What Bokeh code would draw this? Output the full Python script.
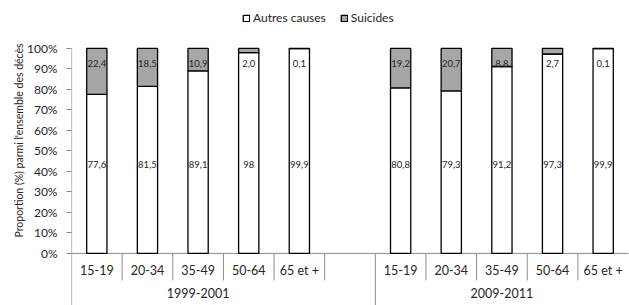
import math
from bokeh.plotting import figure
from bokeh.models import (ColumnDataSource, Range1d, FixedTicker, Title,
                          Legend, LegendItem)
from bokeh.core.properties import value
from bokeh.embed import file_html
from bokeh.resources import INLINE

# ---- data ----
periods = ["1999-2001", "2009-2011"]
age_groups = ["15-19", "20-34", "35-49", "50-64", "65 et +"]
autres_1999 = [77.6, 81.5, 89.1, 98.0, 99.9]
suicides_1999 = [22.4, 18.5, 10.9, 2.0, 0.1]
autres_2009 = [80.8, 79.3, 91.2, 97.3, 99.9]
suicides_2009 = [19.2, 20.7, 8.8, 2.7, 0.1]
y_ticks = [0, 10, 20, 30, 40, 50, 60, 70, 80, 90, 100]

FONT = "Lato"
TXT = "#262626"
AXC = "#8c8c8c"

n = len(age_groups)
slot_count = 2 * n + 1

def fmt_g(v):
    return ("%g" % v).replace(".", ",")

def fmt_1(v):
    return ("%.1f" % v).replace(".", ",")

xs, autres, suicides, cats = [], [], [], []
for g, (a_vals, s_vals) in enumerate([(autres_1999, suicides_1999), (autres_2009, suicides_2009)]):
    for i in range(n):
        xs.append(g * (n + 1) + i + 0.5)
        autres.append(a_vals[i])
        suicides.append(s_vals[i])
        cats.append(age_groups[i])

src = ColumnDataSource(dict(
    x=xs, autres=autres, suicides=suicides, cat=cats,
    alab=[fmt_g(v) for v in autres], slab=[fmt_1(v) for v in suicides],
))

Y_BOTTOM = -25.4
Y_TOP = 123.4
p = figure(width=629, height=305, output_backend="svg", toolbar_location=None,
           x_range=Range1d(0, slot_count), y_range=Range1d(Y_BOTTOM, Y_TOP),
           x_axis_location=None, min_border_left=71, min_border_right=1,
           min_border_top=0, min_border_bottom=0)
p.grid.visible = False
p.outline_line_color = None
p.background_fill_color = "white"
p.border_fill_color = "white"

yax = p.yaxis[0]
yax.ticker = FixedTicker(ticks=y_ticks)
yax.major_label_overrides = {t: f"{t}%" for t in y_ticks}
yax.axis_line_color = None
yax.major_tick_line_color = AXC
yax.minor_tick_line_color = None
yax.major_tick_out = 5
yax.major_tick_in = 0
yax.major_label_standoff = 9
yax.major_label_text_font = FONT
yax.major_label_text_font_size = "12px"
yax.major_label_text_color = TXT

# y axis title
p.add_layout(Title(text="Proportion (%) parmi l'ensemble des décès", align="left",
                   offset=68, text_font=FONT, text_font_size="10.5px",
                   text_font_style="normal", text_color=TXT, standoff=0), "left")

# value axis line (from bottom of category area up to 100 %) and baseline
p.segment(x0=[0], x1=[0], y0=[Y_BOTTOM], y1=[max(y_ticks)], line_color=AXC, line_width=1.2)
p.segment(x0=[0], x1=[slot_count], y0=[0], y1=[0], line_color=AXC, line_width=1)

rs = p.vbar_stack(["autres", "suicides"], x="x", width=0.4, source=src,
                  fill_color=["white", "#a6a6a6"], line_color="black", line_width=1.3)

# value labels
p.text(x="x", y=43.5, text="alab", source=src, text_align="center", text_baseline="middle",
       text_font=value(FONT), text_font_size="9.5px", text_color=TXT)
p.text(x="x", y=92.7, text="slab", source=src, text_align="center", text_baseline="middle",
       text_font=value(FONT), text_font_size="9.5px", text_color=TXT)

# category separators
short_x = [b for b in range(1, slot_count) if b != n + 1]
p.segment(x0=short_x, x1=short_x, y0=[0] * len(short_x), y1=[-13.2] * len(short_x),
          line_color=AXC, line_width=1)
p.segment(x0=[n + 1], x1=[n + 1], y0=[0], y1=[Y_BOTTOM], line_color=AXC, line_width=1)

# category labels
p.text(x="x", y=-8.3, text="cat", source=src, text_align="center", text_baseline="middle",
       text_font=value(FONT), text_font_size="12.5px", text_color=TXT)
p.text(x=[n / 2, n + 1 + n / 2], y=[-19.5, -19.5], text=periods, text_align="center",
       text_baseline="middle", text_font=value(FONT), text_font_size="12.5px", text_color=TXT)

legend = Legend(items=[LegendItem(label="Autres causes", renderers=[rs[0]]),
                       LegendItem(label="Suicides", renderers=[rs[1]])],
                orientation="horizontal", location=(171, 280),
                glyph_width=8, glyph_height=8, label_standoff=3, spacing=14,
                padding=0, margin=0, border_line_color=None, background_fill_alpha=0,
                label_text_font=FONT, label_text_font_size="12px", label_text_color=TXT,
                label_height=14)
p.add_layout(legend)

open("out.html", "w").write(file_html(p, INLINE))
